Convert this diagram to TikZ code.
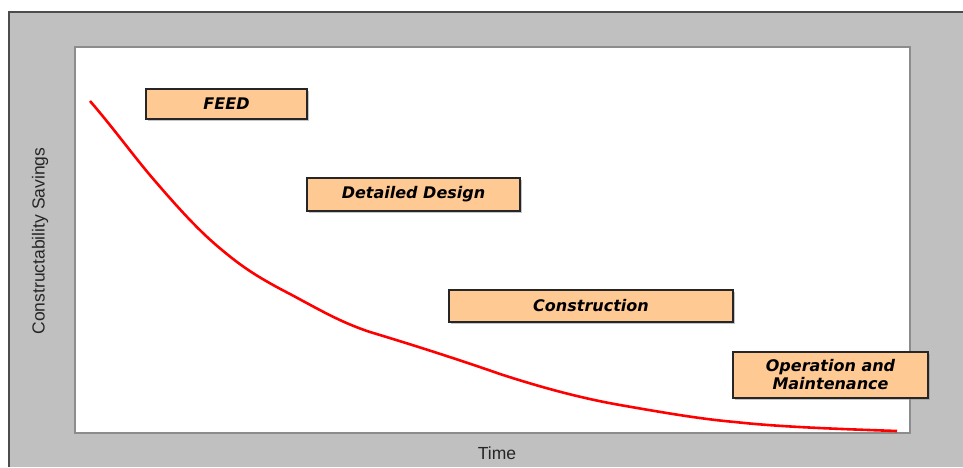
\documentclass[tikz,border=0pt]{standalone}
\usepackage{fontspec}
\usetikzlibrary{shadows}
\setmainfont{Liberation Sans}
\newfontfamily\boxfont{DejaVu Sans}
\begin{document}
\begin{tikzpicture}[x=1pt,y=-1pt,
  phase/.style={draw=black!85,line width=1.1pt,fill=peach,inner sep=0pt,
    font=\boxfont\bfseries\itshape\fontsize{16}{18}\selectfont,align=center,
    drop shadow={shadow xshift=1.5pt,shadow yshift=-1.5pt,fill=black!45}},
  axislabel/.style={font=\fontsize{17.5}{20}\selectfont,text=black!85}]
\definecolor{peach}{HTML}{FFC994}
\definecolor{panel}{HTML}{C0C0C0}
% page and grey panel
\useasboundingbox (0,0) rectangle (963,467);
\fill[white] (0,0) rectangle (963,467);
\fill[panel] (9,12) rectangle (963,467);
\draw[black!70,line width=1.2pt] (9,467) -- (9,12) -- (963,12);
% white plot area
\draw[fill=white,draw=black!45,line width=1.2pt] (75,47) rectangle (910,433);
% phase boxes
\node[phase,minimum width=161pt,minimum height=30pt] (feed) at (226.5,104) {FEED};
\node[phase,minimum width=213pt,minimum height=33pt] (design) at (413.5,194.5) {Detailed Design};
\node[phase,minimum width=284pt,minimum height=32pt] (constr) at (591,306) {Construction};
\node[phase,minimum width=195pt,minimum height=46pt] (ops) at (830.5,375) {Operation and\\Maintenance};
% savings curve
\draw[red,line width=2.6pt,line join=round]
  (90,101) .. controls (115,130) and (135,158) .. (155,181)
  .. controls (180,210) and (200,232) .. (222,250)
  .. controls (240,265) and (255,276) .. (290,294)
  .. controls (320,310) and (340,322) .. (370,332)
  .. controls (410,344) and (460,360) .. (500,374)
  .. controls (540,387) and (580,398) .. (620,405)
  .. controls (660,412) and (700,419) .. (735,422)
  .. controls (780,427) and (840,429) .. (897,431);
% axis titles
\node[axislabel] (xlab) at (497,453) {Time};
\node[axislabel,rotate=90] (ylab) at (40,241) {Constructability Savings};
\end{tikzpicture}
\end{document}
